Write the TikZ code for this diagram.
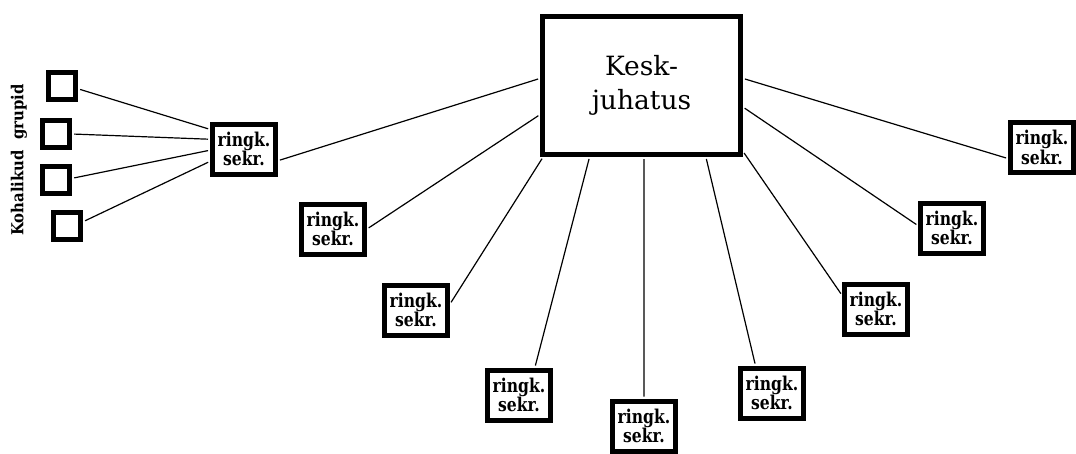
\documentclass[tikz,border=0pt]{standalone}
\usepackage{fontspec}
\setmainfont{DejaVu Serif}
\newfontfamily\rsfont[FakeStretch=0.82]{DejaVu Serif}
\newfontfamily\lblfont[FakeStretch=0.9]{DejaVu Serif}
\begin{document}
\begin{tikzpicture}[x=1pt,y=-1pt,
  sekrbox/.style={draw, line width=5pt, minimum width=63pt, minimum height=50pt, inner sep=0pt, align=center, font=\rsfont\bfseries\fontsize{19}{15.5}\selectfont},
  grpbox/.style={draw, line width=5.5pt, minimum size=27pt, inner sep=0pt},
  link/.style={line width=1.2pt, shorten <=2pt, shorten >=2pt},
  keskbox/.style={draw, line width=5pt, minimum width=198pt, minimum height=138pt, inner sep=0pt, align=center, font=\fontsize{26.5}{34}\selectfont}]
\fill[white] (0,0) rectangle (1076,453);
\useasboundingbox (0,0) rectangle (1076,453);

\node[keskbox] (k) at (641.5,85.5) {Kesk-\\juhatus};

\node[sekrbox] (r0) at (244,149) {ringk.\\sekr.};
\node[sekrbox] (r1) at (333,229) {ringk.\\sekr.};
\node[sekrbox] (r2) at (416,310) {ringk.\\sekr.};
\node[sekrbox] (r3) at (519,395) {ringk.\\sekr.};
\node[sekrbox] (r4) at (644,426) {ringk.\\sekr.};
\node[sekrbox] (r5) at (772,393) {ringk.\\sekr.};
\node[sekrbox] (r6) at (876,309) {ringk.\\sekr.};
\node[sekrbox] (r7) at (952,228) {ringk.\\sekr.};
\node[sekrbox] (r8) at (1042,147.5) {ringk.\\sekr.};

\node[grpbox] (g1) at (62,86) {};
\node[grpbox] (g2) at (56,134) {};
\node[grpbox] (g3) at (56,180) {};
\node[grpbox] (g4) at (67,226) {};

\node[rotate=90, font=\lblfont\bfseries\fontsize{16.5}{17}\selectfont, inner sep=0pt] (lbl) at (19,160) {Kohalikud\ \ grupid};

\draw[link] (r0.341) -- (k.176);
\draw[link] (r1.0) -- (k.196);
\draw[link] (r2.10) -- (k.216);
\draw[link] (r3.60) -- (k.234);
\draw[link] (r4.90) -- (k.272);
\draw[link] (r5.121) -- (k.312);
\draw[link] (r6.158) -- (k.327);
\draw[link] (r7.176) -- (k.348);
\draw[link] (r8.198) -- (k.4);

\draw[link] (g1.350) -- (r0.150);
\draw[link] (g2.0) -- (r0.164);
\draw[link] (g3.6) -- (r0.182);
\draw[link] (g4.15) -- (r0.200);
\end{tikzpicture}
\end{document}
